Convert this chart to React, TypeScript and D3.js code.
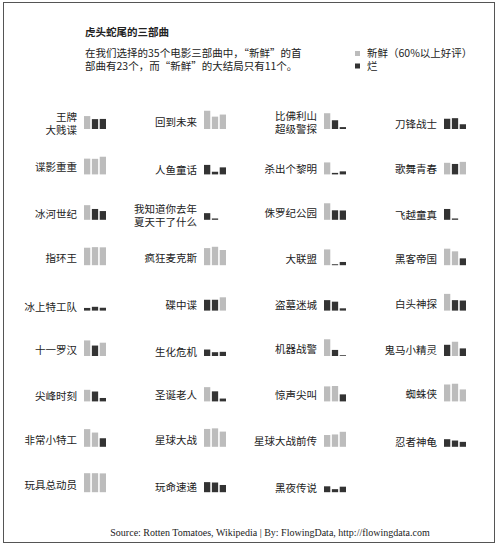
import * as d3 from "d3";
import React from "react";

// 35 trilogies, row-major order (4 per row)
const films = [
  "王牌\n大贱谍", "回到未来", "比佛利山\n超级警探", "刀锋战士",
  "谍影重重", "人鱼童话", "杀出个黎明", "歌舞青春",
  "冰河世纪", "我知道你去年\n夏天干了什么", "侏罗纪公园", "飞越童真",
  "指环王", "疯狂麦克斯", "大联盟", "黑客帝国",
  "冰上特工队", "碟中谍", "盗墓迷城", "白头神探",
  "十一罗汉", "生化危机", "机器战警", "鬼马小精灵",
  "尖峰时刻", "圣诞老人", "惊声尖叫", "蜘蛛侠",
  "非常小特工", "星球大战", "星球大战前传", "忍者神龟",
  "玩具总动员", "玩命速递", "黑夜传说",
];

// Rotten Tomatoes score (%) of each part
const part1 = [68, 96, 83, 54, 83, 50, 63, 61, 77, 35, 87, 57, 92, 90, 83, 87, 14, 57, 55, 88, 82, 34, 88, 59, 61, 75, 79, 89, 93, 94, 62, 40, 100, 53, 31];
const part2 = [52, 65, 46, 57, 82, 14, 8, 55, 57, 7, 50, 7, 95, 97, 5, 73, 20, 57, 47, 55, 55, 20, 32, 75, 52, 53, 81, 93, 75, 97, 65, 33, 100, 51, 16];
const part3 = [53, 76, 10, 25, 93, 37, 16, 66, 46, 0, 49, 0, 94, 80, 17, 36, 15, 70, 12, 53, 70, 22, 4, 40, 18, 15, 37, 63, 45, 80, 79, 26, 99, 38, 29];

const parts = ["1", "2", "3"];
const freshCutoff = 60;

const legendLabels = ["新鲜（60%以上好评）", "烂"];

const FRESH = "#bcbcbc";
const ROTTEN = "#333333";
const cjk = "'Noto Sans CJK SC', sans-serif";
const serif = "'Liberation Serif', 'Noto Sans CJK SC', serif";

const W = 501;
const H = 552;

export default function App() {
  const cols = 4;
  const colX = d3.scaleLinear().domain([0, 1]).range([84, 204]);
  const rowY = d3.scaleLinear().domain([0, 1]).range([129, 174.4]);
  const x = d3.scaleBand().domain(parts).range([0, 22]).paddingInner(0.2);
  const h = d3.scaleLinear().domain([0, 100]).range([0, 19]);
  const color = (v: number) => (v >= freshCutoff ? FRESH : ROTTEN);

  return (
    <svg
      width={W}
      height={H}
      style={{ position: "absolute", left: 0, top: 0, background: "#fff" }}
    >
      <rect x={3.5} y={2.5} width={491} height={540} fill="#fff" stroke="#555" strokeWidth={1} />

      <text x={85} y={36} fontFamily={cjk} fontSize={10.5} fontWeight={700} fill="#222">
        虎头蛇尾的三部曲
      </text>
      <text fontFamily={cjk} fontSize={10.5} fill="#222">
        <tspan x={85} y={57}>在我们选择的35个电影三部曲中，“新鲜”的首</tspan>
        <tspan x={85} y={69.5}>部曲有23个，而“新鲜”的大结局只有11个。</tspan>
      </text>

      {legendLabels.map((t, i) => (
        <g key={t} transform={`translate(355,${57 + i * 12.5})`}>
          <rect x={0} y={-6} width={5} height={5} fill={i === 0 ? FRESH : ROTTEN} />
          <text x={12} y={0} fontFamily={cjk} fontSize={10.5} fill="#222">
            {t}
          </text>
        </g>
      ))}

      {films.map((name, i) => {
        const c = i % cols;
        const r = Math.floor(i / cols);
        const x0 = colX(c);
        const base = rowY(r);
        const vals = [part1[i], part2[i], part3[i]];
        const lines = name.split("\n");
        // label sits roughly beside the middle of the lower part of the bars
        const mid = base - 2.5 - h(d3.max(vals) as number) * 0.25;
        const first = mid + 4 - (lines.length - 1) * 6.25;
        return (
          <g key={name}>
            <text
              textAnchor="end"
              fontFamily={cjk}
              fontSize={10.5}
              fill="#222"
            >
              {lines.map((ln, k) => (
                <tspan key={k} x={x0 - 7} y={first + k * 12.5}>
                  {ln}
                </tspan>
              ))}
            </text>
            {vals.map((v, k) => (
              <rect
                key={k}
                x={x0 + (x(parts[k]) as number)}
                y={base - h(v)}
                width={x.bandwidth()}
                height={h(v)}
                fill={color(v)}
              />
            ))}
          </g>
        );
      })}

      <text
        x={270}
        y={536}
        textAnchor="middle"
        fontFamily={serif}
        fontSize={10}
        fill="#222"
      >
        Source: Rotten Tomatoes, Wikipedia | By: FlowingData, http://flowingdata.com
      </text>
    </svg>
  );
}
